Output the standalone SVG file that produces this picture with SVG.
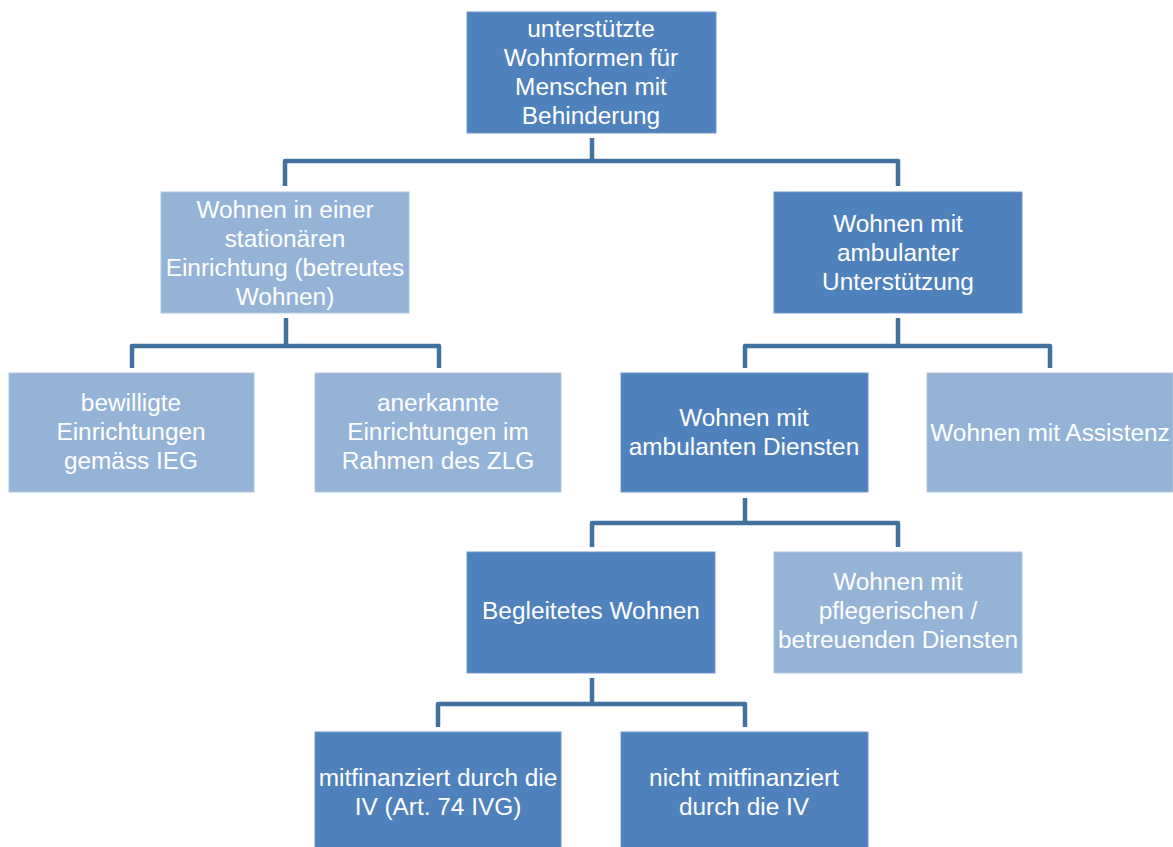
<svg xmlns="http://www.w3.org/2000/svg" width="1173" height="847" viewBox="0 0 1173 847">
<style>
.dark{fill:#4f81bd;stroke:#6f97c9;stroke-width:1}
.light{fill:#95b3d7;stroke:#aec6e2;stroke-width:1}
.t{font-family:"Liberation Sans",Arial,sans-serif;font-size:24.4px;fill:#ffffff;text-anchor:middle}
.c{fill:none;stroke:#41719c;stroke-width:4.5;stroke-linejoin:round}
</style>
<rect width="1173" height="847" fill="#ffffff"/>
<g id="connectors">
<path class="c" d="M592 138 V161 M285 186 V161 H898 V186"/>
<path class="c" d="M286 318 V346 M132 368 V346 H439 V368"/>
<path class="c" d="M898 318 V346 M745 368 V346 H1050 V368"/>
<path class="c" d="M745 498 V523 M592 547 V523 H898 V547"/>
<path class="c" d="M592 678 V704 M438 727 V704 H745 V727"/>
</g>
<g id="n_root"><rect class="dark" x="467" y="12" width="249" height="121"/>
<text class="t"><tspan x="591" y="37">unterstützte</tspan><tspan x="591" y="66">Wohnformen für</tspan><tspan x="591" y="95">Menschen mit</tspan><tspan x="591" y="124">Behinderung</tspan></text></g>
<g id="n_stationaer"><rect class="light" x="161" y="192" width="248" height="121"/>
<text class="t"><tspan x="285" y="218">Wohnen in einer</tspan><tspan x="285" y="247">stationären</tspan><tspan x="285" y="276">Einrichtung (betreutes</tspan><tspan x="285" y="305">Wohnen)</tspan></text></g>
<g id="n_ambulant"><rect class="dark" x="774" y="192" width="248" height="121"/>
<text class="t"><tspan x="898" y="232">Wohnen mit</tspan><tspan x="898" y="261">ambulanter</tspan><tspan x="898" y="290">Unterstützung</tspan></text></g>
<g id="n_bewilligt"><rect class="light" x="9" y="373" width="245" height="119"/>
<text class="t"><tspan x="131" y="411">bewilligte</tspan><tspan x="131" y="440">Einrichtungen</tspan><tspan x="131" y="469">gemäss IEG</tspan></text></g>
<g id="n_anerkannt"><rect class="light" x="315" y="373" width="246" height="119"/>
<text class="t"><tspan x="438" y="411">anerkannte</tspan><tspan x="438" y="440">Einrichtungen im</tspan><tspan x="438" y="469">Rahmen des ZLG</tspan></text></g>
<g id="n_dienste"><rect class="dark" x="621" y="373" width="247" height="119"/>
<text class="t"><tspan x="744" y="426">Wohnen mit</tspan><tspan x="744" y="455">ambulanten Diensten</tspan></text></g>
<g id="n_assistenz"><rect class="light" x="927" y="373" width="246" height="119"/>
<text class="t"><tspan x="1050" y="441">Wohnen mit Assistenz</tspan></text></g>
<g id="n_begleitet"><rect class="dark" x="467" y="552" width="248" height="121"/>
<text class="t"><tspan x="591" y="619">Begleitetes Wohnen</tspan></text></g>
<g id="n_pflege"><rect class="light" x="774" y="552" width="248" height="121"/>
<text class="t"><tspan x="898" y="590">Wohnen mit</tspan><tspan x="898" y="619">pflegerischen /</tspan><tspan x="898" y="648">betreuenden Diensten</tspan></text></g>
<g id="n_mitfin"><rect class="dark" x="315" y="732" width="246" height="125"/>
<text class="t"><tspan x="438" y="786">mitfinanziert durch die</tspan><tspan x="438" y="815">IV (Art. 74 IVG)</tspan></text></g>
<g id="n_nichtfin"><rect class="dark" x="621" y="732" width="247" height="125"/>
<text class="t"><tspan x="744" y="786">nicht mitfinanziert</tspan><tspan x="744" y="815">durch die IV</tspan></text></g>
</svg>
